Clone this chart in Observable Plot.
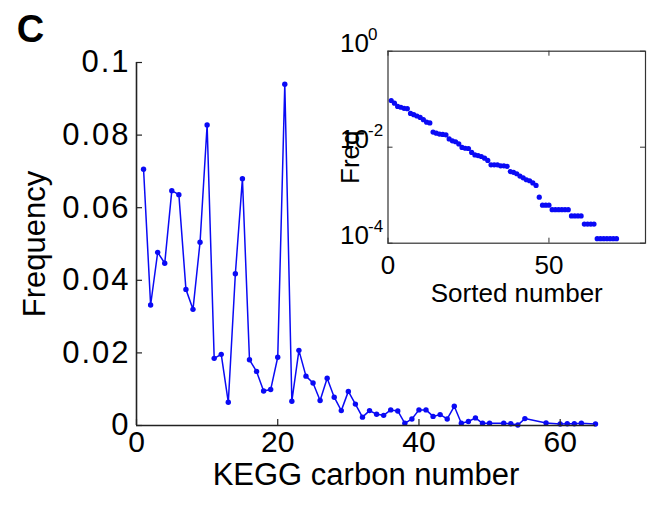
<!DOCTYPE html>
<html><head><meta charset="utf-8">
<script src="https://cdn.jsdelivr.net/npm/d3@7"></script>
<script src="https://cdn.jsdelivr.net/npm/@observablehq/plot@0.6"></script>
<style>
body{margin:0;background:#fff;}
#wrap{position:relative;width:650px;height:507px;background:#fff;}
#wrap svg{position:absolute;background:transparent;}
</style></head><body><div id="wrap"></div>
<script>
// Main panel: frequency by KEGG carbon number
const carbonNumber = [1,2,3,4,5,6,7,8,9,10,11,12,13,14,15,16,17,18,19,20,21,22,23,24,25,26,27,28,29,30,31,32,33,34,35,36,37,38,39,40,41,42,43,44,45,46,47,48,49,50,52,53,54,55,58,60,61,62,63,65];
const frequency = [0.0706,0.0332,0.0477,0.0447,0.0647,0.0636,0.0375,0.032,0.0505,0.0828,
  0.0185,0.0196,0.0064,0.0418,0.068,0.0181,0.0149,0.0095,0.0099,0.0188,
  0.094,0.0067,0.0207,0.0136,0.0117,0.0069,0.013,0.0078,0.0041,0.0094,
  0.0059,0.0023,0.0041,0.0031,0.0028,0.0043,0.004,0.0006,0.0018,0.0043,
  0.0043,0.0025,0.003,0.0018,0.0053,0.0006,0.0011,0.0021,0.0006,0.0006,
  0.0006,0.0005,0.00012,0.0019,0.0007,0.0004,0.0005,0.0005,0.0006,0.0004];
const mainXTicks = [0,20,40,60];
const mainYTicks = [0,0.02,0.04,0.06,0.08,0.1];

// Inset: sorted frequencies (rank = sorted number)
const sortedFreq = [0.094,0.0828,0.0706,0.068,0.0647,0.0636,0.0505,0.0477,0.0447,0.0418,0.0375,0.0332,0.032,
  0.0207,0.0196,0.0188,0.0185,0.0181,0.0149,0.0136,0.013,0.0117,0.0099,0.0095,0.0094,0.0078,0.0069,0.0067,
  0.0064,0.0059,0.0053,0.0043,0.0043,0.0043,0.0041,0.0041,0.004,0.0031,0.003,0.0028,0.0025,0.0023,0.0021,
  0.002,0.0018,0.0016,0.00091,0.00062,0.00062,0.00062,0.0005,0.0005,0.0005,0.0005,0.0005,0.0005,
  0.00037,0.00037,0.00037,0.00037,0.00025,0.00025,0.00025,0.00025,
  0.000124,0.000124,0.000124,0.000124,0.000124,0.000124,0.000124];
const insetXTicks = [0,50];
const insetYTicks = [1,0.01,0.0001];
const insetYExponents = ["0","-2","-4"];

const FONT = '"Liberation Sans", Arial, Helvetica, sans-serif';
const BLUE = "#0a0af5";
const wrap = document.getElementById("wrap");

// ---------- main chart ----------
const W = 650, H = 507, mL = 136, mR = 55, mT = 62, mB = 82;
const innerW = W - mL - mR, innerH = H - mT - mB;
const mainData = carbonNumber.map((c, i) => ({c, f: frequency[i]}));

const main = Plot.plot({
  width: W, height: H,
  marginLeft: mL, marginRight: mR, marginTop: mT, marginBottom: mB,
  x: {domain: [0, 65]},
  y: {domain: [0, 0.1]},
  style: {fontFamily: FONT, color: "#000", background: "transparent", overflow: "visible"},
  marks: [
    Plot.line(mainData, {x: "c", y: "f", stroke: BLUE, strokeWidth: 1.5, clip: true}),
    Plot.dot(mainData, {x: "c", y: "f", r: 2.7, fill: BLUE, stroke: "none"}),
    Plot.ruleX([0], {stroke: "#222", strokeWidth: 1.6}),
    Plot.ruleY([0], {stroke: "#222", strokeWidth: 1.6}),
    Plot.tickY(mainYTicks, {y: d => d, insetRight: innerW - 6, stroke: "#222", strokeWidth: 1.2}),
    Plot.tickX(mainXTicks, {x: d => d, insetTop: innerH - 6, stroke: "#222", strokeWidth: 1.2}),
    Plot.axisY(mainYTicks, {tickSize: 0, tickPadding: 6, tickFormat: d => String(d), label: null, fontSize: 31}),
    Plot.axisX(mainXTicks, {tickSize: 0, tickPadding: 5, tickFormat: d => String(d), label: null, fontSize: 30}),
    Plot.text(["KEGG carbon number"], {text: d => d, frameAnchor: "bottom", textAnchor: "middle", dy: 50, fontSize: 31, lineAnchor: "middle"}),
    Plot.text(["Frequency"], {text: d => d, frameAnchor: "left", textAnchor: "middle", dx: -101, rotate: -90, fontSize: 31, lineAnchor: "middle"}),
    Plot.text(["C"], {text: d => d, frameAnchor: "top-left", textAnchor: "middle", dx: -106, dy: -33, fontSize: 38, fontWeight: "bold", lineAnchor: "middle"})
  ]
});
main.style.left = "0px"; main.style.top = "0px";
const yLab = main.querySelector('g[aria-label="y-axis tick label"]');
if (yLab) yLab.style.letterSpacing = "2px";
wrap.appendChild(main);

// ---------- inset ----------
const IW = 350, IH = 320, iL = 87.5, iR = 5, iT = 50.7, iB = 77.3;
const iInnerW = IW - iL - iR, iInnerH = IH - iT - iB;
const inset = Plot.plot({
  width: IW, height: IH,
  marginLeft: iL, marginRight: iR, marginTop: iT, marginBottom: iB,
  x: {domain: [0, 80]},
  y: {type: "log", domain: [0.0001, 1]},
  style: {fontFamily: FONT, color: "#000", background: "transparent", overflow: "visible"},
  marks: [
    Plot.dot(sortedFreq, {x: (d, i) => i + 1, y: d => d, r: 2.6, fill: BLUE, stroke: "none"}),
    Plot.frame({stroke: "#333", strokeWidth: 1.2}),
    Plot.tickY(insetYTicks, {y: d => d, insetRight: iInnerW - 5, stroke: "#333"}),
    Plot.tickY(insetYTicks, {y: d => d, insetLeft: iInnerW - 5, stroke: "#333"}),
    Plot.tickX(insetXTicks, {x: d => d, insetTop: iInnerH - 5, stroke: "#333"}),
    Plot.tickX(insetXTicks, {x: d => d, insetBottom: iInnerH - 5, stroke: "#333"}),
    Plot.axisX(insetXTicks, {tickSize: 0, tickPadding: 12, tickFormat: d => String(d), label: null, fontSize: 26}),
    Plot.axisY(insetYTicks, {tickSize: 0, tickPadding: 19, tickFormat: () => "10", label: null, fontSize: 26, dy: -8}),
    Plot.text(insetYTicks, {y: d => d, frameAnchor: "left", text: (d, i) => insetYExponents[i], textAnchor: "start", dx: -20, dy: -17, fontSize: 17}),
    Plot.text(["Sorted number"], {text: d => d, frameAnchor: "bottom", textAnchor: "middle", dy: 50, fontSize: 26, lineAnchor: "middle"}),
    Plot.text(["Freq"], {text: d => d, frameAnchor: "left", textAnchor: "middle", dx: -37, dy: 10, rotate: -90, fontSize: 26, lineAnchor: "middle"})
  ]
});
inset.style.left = "300px"; inset.style.top = "0px";
wrap.appendChild(inset);
</script></body></html>
